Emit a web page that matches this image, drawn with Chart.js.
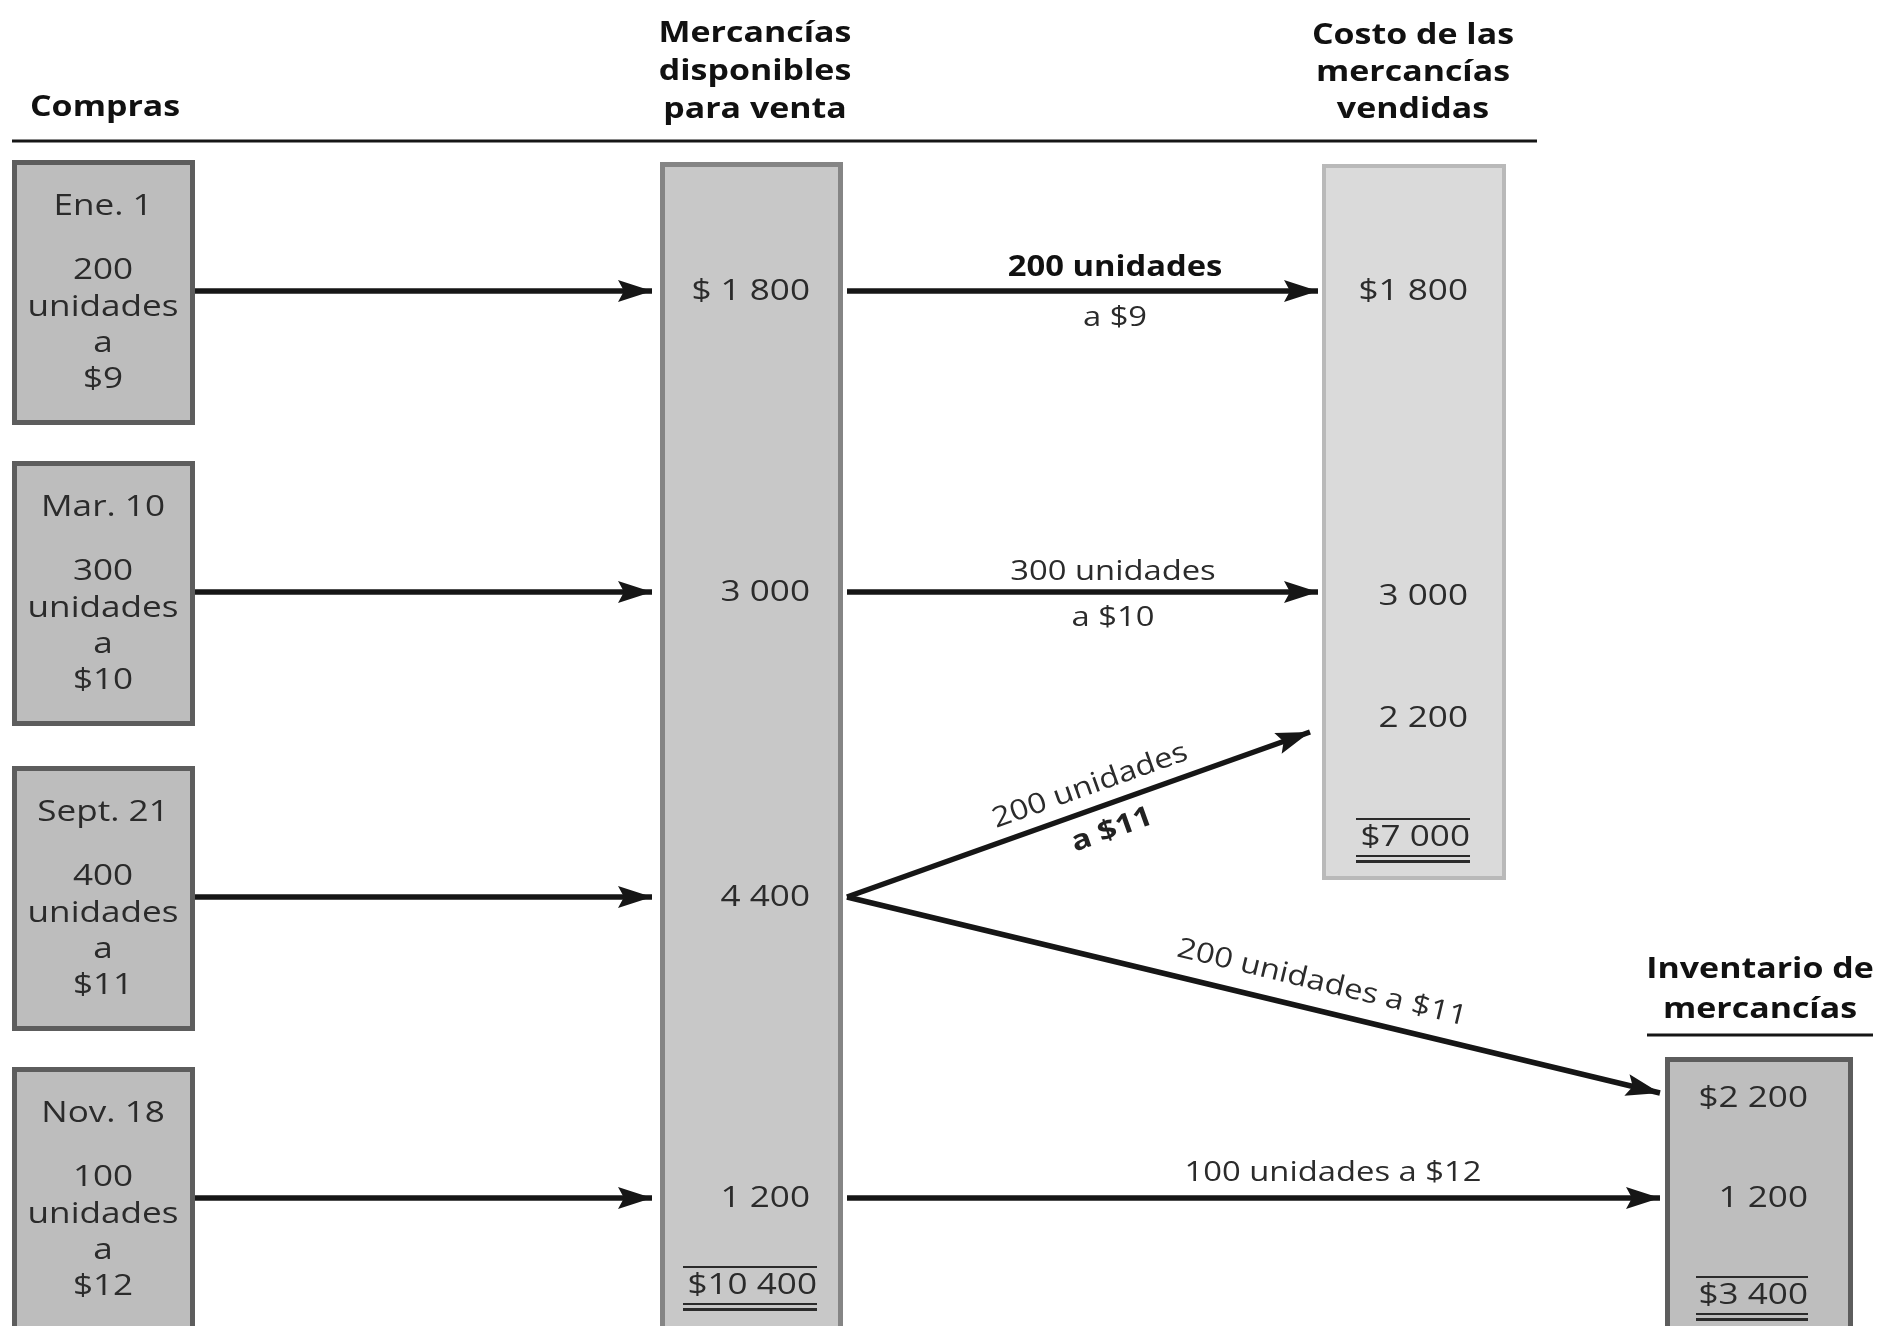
<!DOCTYPE html>
<html>
<head>
<meta charset="utf-8">
<script src="https://cdn.jsdelivr.net/npm/chart.js@4"></script>
<style>
  body { margin: 0; background: #fff; }
  canvas { display: block; }
</style>
</head>
<body>
<canvas id="flow" width="1883" height="1326"></canvas>
<script>
// --- data ---
const purchaseDates = ["Ene. 1", "Mar. 10", "Sept. 21", "Nov. 18"];
const purchaseUnits = [200, 300, 400, 100];
const purchasePrices = [9, 10, 11, 12];
const availableValues = [1800, 3000, 4400, 1200];
const availableTotal = 10400;
const soldUnits = [200, 300, 200];
const soldPrices = [9, 10, 11];
const soldValues = [1800, 3000, 2200];
const soldTotal = 7000;
const inventoryUnits = [200, 100];
const inventoryPrices = [11, 12];
const inventoryValues = [2200, 1200];
const inventoryTotal = 3400;
const headers = {
  purchases: ["Compras"],
  available: ["Mercancías", "disponibles", "para venta"],
  sold: ["Costo de las", "mercancías", "vendidas"],
  inventory: ["Inventario de", "mercancías"],
};

// --- layout (axis units == pixels) ---
const W = 1883, H = 1326;
const rowY = [291, 592, 897, 1198];
const soldY = [291, 596, 718];
const invY = [1098, 1198];
const FONT = "'Open Sans', sans-serif";
const SX = 1.17; // the scanned type is a bit wide
const INK = "#161616";
const TXT = "#2b2b2b";

const fmt = (n) => String(n).replace(/\B(?=(\d{3})+(?!\d))/g, " ");

// arrows: [x0, y0, x1, y1]
const arrows = [];
rowY.forEach((y) => arrows.push([195, y, 652, y]));
arrows.push([847, rowY[0], 1318, rowY[0]]);
arrows.push([847, rowY[1], 1318, rowY[1]]);
arrows.push([847, rowY[2], 1310, soldY[2] + 14]);
arrows.push([847, rowY[2], 1660, invY[0] - 5]);
arrows.push([847, rowY[3], 1660, rowY[3]]);

const arrowSets = arrows.map((a) => ({
  type: "line",
  data: [{ x: a[0], y: a[1] }, { x: a[2], y: a[3] }],
  borderColor: INK,
  borderWidth: 5.5,
  pointRadius: 0,
  showLine: true,
  fill: false,
}));

function txt(ctx, s, x, y, opt = {}) {
  ctx.save();
  ctx.translate(x, y);
  if (opt.rot) ctx.rotate(opt.rot);
  ctx.scale(opt.sx || SX, 1);
  ctx.font = `${opt.bold ? "bold " : ""}${opt.size || 30}px ${FONT}`;
  ctx.fillStyle = opt.color || TXT;
  ctx.textAlign = opt.align || "center";
  ctx.textBaseline = "middle";
  ctx.fillText(s, 0, 0);
  ctx.restore();
}

const diagram = {
  id: "diagram",
  beforeDatasetsDraw(chart) {
    const { ctx, scales: { x, y } } = chart;
    const X = (v) => x.getPixelForValue(v), Y = (v) => y.getPixelForValue(v);
    const box = (x0, y0, x1, y1, fill, stroke, lw) => {
      ctx.save();
      ctx.fillStyle = fill;
      ctx.fillRect(X(x0), Y(y0), X(x1) - X(x0), Y(y1) - Y(y0));
      ctx.strokeStyle = stroke;
      ctx.lineWidth = lw;
      ctx.strokeRect(X(x0) + lw / 2, Y(y0) + lw / 2, X(x1) - X(x0) - lw, Y(y1) - Y(y0) - lw);
      ctx.restore();
    };
    // header rules
    ctx.save();
    ctx.strokeStyle = INK;
    ctx.lineWidth = 3;
    ctx.beginPath();
    ctx.moveTo(X(12), Y(141)); ctx.lineTo(X(1537), Y(141));
    ctx.moveTo(X(1647), Y(1035)); ctx.lineTo(X(1873), Y(1035));
    ctx.stroke();
    ctx.restore();

    rowY.forEach((r) => box(12, r - 131, 195, r + 134, "#bdbdbd", "#5d5d5d", 5));
    box(660, 162, 843, H + 20, "#c8c8c8", "#858585", 5);
    box(1322, 164, 1506, 880, "#dadada", "#b9b9b9", 4);
    box(1665, 1057, 1853, H + 20, "#bebebe", "#5d5d5d", 5);
  },
  afterDatasetsDraw(chart) {
    const { ctx, scales: { x, y } } = chart;
    const X = (v) => x.getPixelForValue(v), Y = (v) => y.getPixelForValue(v);

    // arrow heads
    arrows.forEach((a) => {
      const x1 = X(a[2]), y1 = Y(a[3]);
      const ang = Math.atan2(y1 - Y(a[1]), x1 - X(a[0]));
      ctx.save();
      ctx.translate(x1, y1);
      ctx.rotate(ang);
      ctx.fillStyle = INK;
      ctx.beginPath();
      ctx.moveTo(0, 0);
      ctx.lineTo(-34, -11);
      ctx.lineTo(-28, 0);
      ctx.lineTo(-34, 11);
      ctx.closePath();
      ctx.fill();
      ctx.restore();
    });

    // headers
    txt(ctx, headers.purchases[0], X(30), Y(108), { bold: true, size: 29, color: "#111", align: "left" });
    headers.available.forEach((s, i) => txt(ctx, s, X(755), Y(34 + i * 38), { bold: true, size: 29, color: "#111" }));
    headers.sold.forEach((s, i) => txt(ctx, s, X(1413), Y(36 + i * 37), { bold: true, size: 29, color: "#111" }));
    headers.inventory.forEach((s, i) => txt(ctx, s, X(1760), Y(970 + i * 40), { bold: true, size: 29, color: "#111" }));

    // purchase boxes
    rowY.forEach((r, i) => {
      const t = r - 131;
      txt(ctx, purchaseDates[i], X(103), Y(t + 46));
      txt(ctx, String(purchaseUnits[i]), X(103), Y(t + 110));
      txt(ctx, "unidades", X(103), Y(t + 147));
      txt(ctx, "a", X(103), Y(t + 183));
      txt(ctx, "$" + purchasePrices[i], X(103), Y(t + 219));
    });

    const total = (s, xr, yc, w) => {
      txt(ctx, s, X(xr), Y(yc), { align: "right" });
      ctx.save();
      ctx.fillStyle = TXT;
      ctx.fillRect(X(xr - w), Y(yc - 19), w, 2);
      ctx.fillRect(X(xr - w), Y(yc + 18), w, 2);
      ctx.fillRect(X(xr - w), Y(yc + 23), w, 3);
      ctx.restore();
    };

    // available column
    availableValues.forEach((v, i) => txt(ctx, (i === 0 ? "$ " : "") + fmt(v), X(810), Y(rowY[i]), { align: "right" }));
    total("$" + fmt(availableTotal), 817, 1285, 134);

    // sold column
    soldValues.forEach((v, i) => txt(ctx, (i === 0 ? "$" : "") + fmt(v), X(1468), Y(soldY[i]), { align: "right" }));
    total("$" + fmt(soldTotal), 1470, 837, 114);

    // inventory column
    inventoryValues.forEach((v, i) => txt(ctx, (i === 0 ? "$" : "") + fmt(v), X(1808), Y(invY[i]), { align: "right" }));
    total("$" + fmt(inventoryTotal), 1808, 1295, 112);

    // flow labels
    txt(ctx, soldUnits[0] + " unidades", X(1115), Y(268), { bold: true, color: "#111", size: 28 });
    txt(ctx, "a $" + soldPrices[0], X(1115), Y(318), { size: 28 });
    txt(ctx, soldUnits[1] + " unidades", X(1113), Y(572), { size: 28 });
    txt(ctx, "a $" + soldPrices[1], X(1113), Y(618), { size: 28 });

    const up = arrows[6], dn = arrows[7];
    const upAng = Math.atan2(Y(up[3]) - Y(up[1]), X(up[2]) - X(up[0]));
    const dnAng = Math.atan2(Y(dn[3]) - Y(dn[1]), X(dn[2]) - X(dn[0]));
    txt(ctx, soldUnits[2] + " unidades", X(1090), Y(786), { size: 28, rot: upAng });
    txt(ctx, "a $" + soldPrices[2], X(1112), Y(830), { size: 28, rot: upAng, bold: true, color: "#222" });
    txt(ctx, inventoryUnits[0] + " unidades a $" + inventoryPrices[0], X(1322), Y(983), { size: 28, rot: dnAng });
    txt(ctx, inventoryUnits[1] + " unidades a $" + inventoryPrices[1], X(1333), Y(1173), { size: 28 });
  },
};

new Chart(document.getElementById("flow"), {
  type: "scatter",
  data: { datasets: arrowSets },
  options: {
    responsive: false,
    animation: false,
    devicePixelRatio: 1,
    layout: { padding: 0 },
    plugins: { legend: { display: false }, tooltip: { enabled: false } },
    scales: {
      x: { type: "linear", min: 0, max: W, display: false },
      y: { type: "linear", min: 0, max: H, reverse: true, display: false },
    },
  },
  plugins: [diagram],
});
</script>
</body>
</html>
